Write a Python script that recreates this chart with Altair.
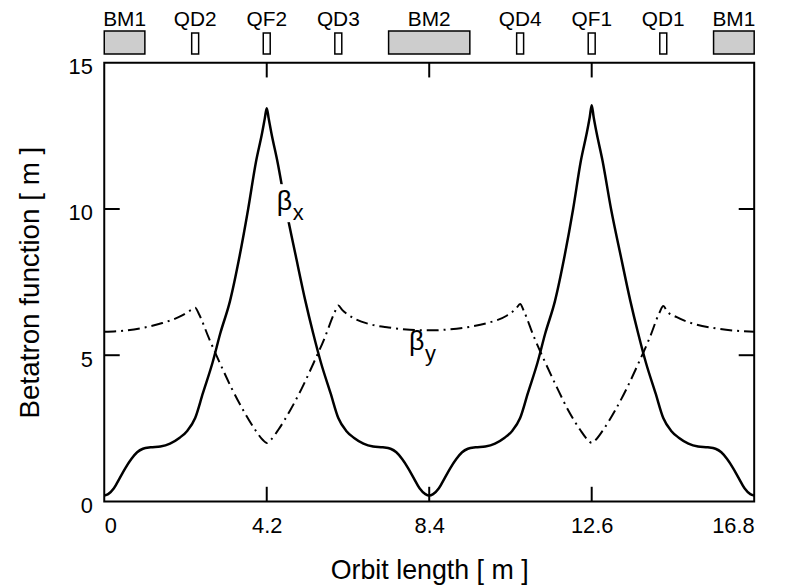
import altair as alt
import pandas as pd

# ---- horizontal betatron function beta_x ----
s_x = [0.00, 0.10, 0.25, 0.40, 0.55, 0.70, 0.85, 1.00, 1.20, 1.45, 1.70, 1.95, 2.15, 2.35,
       2.55, 2.80, 3.00, 3.25, 3.50, 3.72, 3.92, 4.08, 4.15, 4.20,
       4.25, 4.32, 4.48, 4.70, 4.95, 5.20, 5.40, 5.60, 5.85, 6.05,
       6.25, 6.45, 6.70, 6.95, 7.20, 7.40, 7.55, 7.70, 7.85, 8.00, 8.15, 8.30, 8.40,
       8.50, 8.65, 8.80, 8.95, 9.10, 9.25, 9.40, 9.60, 9.85, 10.10, 10.35, 10.55, 10.75,
       10.95, 11.20, 11.40, 11.65, 11.90, 12.12, 12.32, 12.48, 12.55, 12.60,
       12.65, 12.72, 12.88, 13.10, 13.35, 13.60, 13.80, 14.00, 14.25, 14.45,
       14.65, 14.85, 15.10, 15.35, 15.60, 15.80, 15.95, 16.10, 16.25, 16.40, 16.55, 16.70, 16.80]
beta_x = [0.20, 0.25, 0.45, 0.80, 1.15, 1.45, 1.68, 1.80, 1.85, 1.88, 1.98, 2.18, 2.42, 2.85,
          3.70, 4.75, 5.75, 6.85, 8.40, 10.00, 11.60, 12.60, 13.10, 13.45,
          13.10, 12.60, 11.60, 10.00, 8.40, 6.85, 5.75, 4.75, 3.70, 2.85,
          2.42, 2.18, 1.98, 1.88, 1.85, 1.80, 1.68, 1.45, 1.15, 0.80, 0.45, 0.25, 0.20,
          0.25, 0.45, 0.80, 1.15, 1.45, 1.68, 1.80, 1.85, 1.88, 1.98, 2.18, 2.42, 2.85,
          3.70, 4.75, 5.75, 6.85, 8.40, 10.00, 11.65, 12.65, 13.15, 13.55,
          13.15, 12.65, 11.65, 10.00, 8.40, 6.85, 5.75, 4.75, 3.70, 2.85,
          2.42, 2.18, 1.98, 1.88, 1.85, 1.80, 1.68, 1.45, 1.15, 0.80, 0.45, 0.25, 0.20]

# ---- vertical betatron function beta_y ----
s_y = [0.00, 0.50, 1.05, 1.50, 2.00, 2.25, 2.35, 2.45, 2.70, 3.00, 3.30, 3.60, 3.90, 4.10, 4.20,
       4.30, 4.50, 4.80, 5.10, 5.40, 5.70, 5.95, 6.05, 6.15, 6.40, 6.90, 7.35, 7.90, 8.40,
       8.90, 9.45, 9.90, 10.40, 10.65, 10.75, 10.85, 11.10, 11.40, 11.70, 12.00, 12.30, 12.50, 12.60,
       12.70, 12.90, 13.20, 13.50, 13.80, 14.10, 14.35, 14.45, 14.55, 14.80, 15.30, 15.75, 16.30, 16.80]
beta_y = [5.80, 5.84, 5.95, 6.10, 6.35, 6.55, 6.62, 6.40, 5.60, 4.70, 3.85, 3.10, 2.45, 2.10, 2.00,
          2.10, 2.45, 3.10, 3.85, 4.70, 5.60, 6.45, 6.70, 6.55, 6.30, 6.05, 5.95, 5.87, 5.85,
          5.88, 5.97, 6.10, 6.35, 6.60, 6.75, 6.50, 5.65, 4.75, 3.90, 3.10, 2.45, 2.10, 2.00,
          2.10, 2.45, 3.10, 3.85, 4.70, 5.60, 6.45, 6.68, 6.50, 6.30, 6.05, 5.93, 5.84, 5.80]

# ---- lattice elements ----
elem_names = ["BM1", "QD2", "QF2", "QD3", "BM2", "QD4", "QF1", "QD1", "BM1"]
elem_start = [0.00, 2.26, 4.11, 5.96, 7.35, 10.66, 12.51, 14.36, 15.75]
elem_end = [1.05, 2.44, 4.29, 6.14, 9.45, 10.84, 12.69, 14.54, 16.80]
elem_kind = ["bend", "quad", "quad", "quad", "bend", "quad", "quad", "quad", "bend"]

x_tick_values = [0, 4.2, 8.4, 12.6, 16.8]
x_inner_ticks = [4.2, 8.4, 12.6]
y_tick_values = [0, 5, 10, 15]
y_inner_ticks = [5, 10]

df_x = pd.DataFrame({"s": s_x, "beta": beta_x})
df_y = pd.DataFrame({"s": s_y, "beta": beta_y})
df_el = pd.DataFrame({"name": elem_names, "start": elem_start, "end": elem_end, "kind": elem_kind})
df_xt = pd.DataFrame({"t": x_inner_ticks})
df_yt = pd.DataFrame({"t": y_inner_ticks})
one = pd.DataFrame({"k": [0]})

FONT = "Liberation Sans"

xscale = alt.Scale(domain=[0, 16.8], nice=False, zero=False)
yscale = alt.Scale(domain=[0, 15], nice=False, zero=False)

xaxis = alt.Axis(values=x_tick_values, labelExpr="datum.value == 0 ? '0' : format(datum.value, '.1f')",
                 ticks=False, tickSize=0, domain=False, grid=False, labelFontSize=22, labelPadding=14,
                 labelColor="black", title="Orbit length [ m ]", titleFontSize=27, titleFontWeight="normal",
                 titleColor="black", titlePadding=22, labelFont=FONT, titleFont=FONT)
yaxis = alt.Axis(values=y_tick_values, ticks=False, tickSize=0, domain=False, grid=False,
                 labelFontSize=22, labelPadding=12, labelColor="black", labelOffset=4,
                 title="Betatron function [ m ]", titleFontSize=28, titleFontWeight="normal",
                 titleColor="black", titlePadding=24, labelFont=FONT, titleFont=FONT)

line_x = alt.Chart(df_x).mark_line(color="black", strokeWidth=2.5, interpolate="monotone").encode(
    x=alt.X("s:Q", scale=xscale, axis=xaxis),
    y=alt.Y("beta:Q", scale=yscale, axis=yaxis),
)
line_y = alt.Chart(df_y).mark_line(color="black", strokeWidth=2, strokeDash=[12, 5, 2, 5],
                                   interpolate="monotone").encode(
    x=alt.X("s:Q", scale=xscale),
    y=alt.Y("beta:Q", scale=yscale),
)

# inward ticks
tick_bottom = alt.Chart(df_xt).mark_rule(color="black", strokeWidth=2).encode(
    x="t:Q", y=alt.datum(0), y2=alt.datum(0.5))
tick_top = alt.Chart(df_xt).mark_rule(color="black", strokeWidth=2).encode(
    x="t:Q", y=alt.datum(15), y2=alt.datum(14.5))
tick_left = alt.Chart(df_yt).mark_rule(color="black", strokeWidth=2).encode(
    y="t:Q", x=alt.datum(0), x2=alt.datum(0.4))
tick_right = alt.Chart(df_yt).mark_rule(color="black", strokeWidth=2).encode(
    y="t:Q", x=alt.datum(16.8), x2=alt.datum(16.4))

# labels for the curves
gap = alt.Chart(one).mark_rect(color="white").encode(
    x=alt.datum(4.50), x2=alt.datum(4.95), y=alt.datum(9.55), y2=alt.datum(10.85))
bx_b = alt.Chart(one).mark_text(text="β", font=FONT, fontSize=27, fontWeight="normal", align="left",
                                baseline="middle", color="black").encode(x=alt.datum(4.46), y=alt.datum(10.25))
bx_s = alt.Chart(one).mark_text(text="x", font=FONT, fontSize=22, fontWeight="normal", align="left",
                                baseline="middle", color="black").encode(x=alt.datum(4.87), y=alt.datum(9.85))
by_b = alt.Chart(one).mark_text(text="β", font=FONT, fontSize=27, fontWeight="normal", align="left",
                                baseline="middle", color="black").encode(x=alt.datum(7.88), y=alt.datum(5.45))
by_s = alt.Chart(one).mark_text(text="y", font=FONT, fontSize=22, fontWeight="normal", align="left",
                                baseline="middle", color="black").encode(x=alt.datum(8.29), y=alt.datum(5.05))

# lattice element bar above the plot
bends = alt.Chart(df_el).transform_filter(alt.datum.kind == "bend").mark_rect(
    fill="#cdcdcd", stroke="black", strokeWidth=1.5).encode(
    x="start:Q", x2="end:Q", y=alt.value(-32), y2=alt.value(-9))
quads = alt.Chart(df_el).transform_filter(alt.datum.kind == "quad").mark_rect(
    fill="white", stroke="black", strokeWidth=1.5).encode(
    x="start:Q", x2="end:Q", y=alt.value(-30), y2=alt.value(-9))
elabels = alt.Chart(df_el).transform_calculate(mid="(datum.start + datum.end) / 2").mark_text(
    font=FONT, fontSize=21, baseline="alphabetic", align="center", color="black").encode(
    x="mid:Q", y=alt.value(-37), text="name:N")

chart = alt.layer(line_y, line_x, gap, bx_b, bx_s, by_b, by_s,
                  tick_bottom, tick_top, tick_left, tick_right,
                  bends, quads, elabels).properties(
    width=655, height=442,
    autosize=alt.AutoSizeParams(type="none"),
    padding={"left": 97, "top": 53, "right": 24, "bottom": 83},
    background="white",
).configure_view(stroke="black", strokeWidth=2)

chart.save("out.html", embed_options={"renderer": "svg", "actions": False})
